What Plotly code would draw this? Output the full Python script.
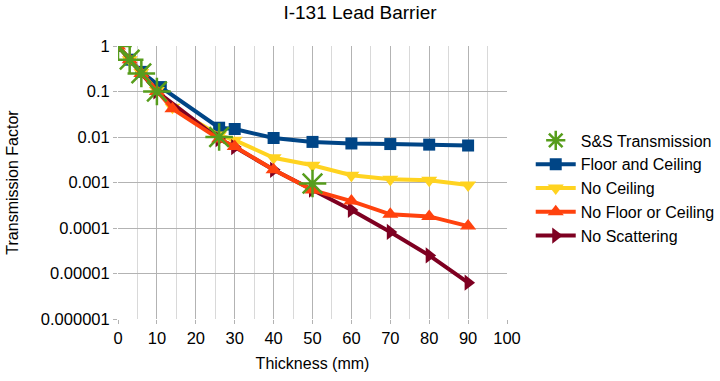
import plotly.graph_objects as go

# Data
ss_x = [0, 3, 6, 10, 26, 50]
ss_y = [1, 0.5, 0.25, 0.1, 0.01, 0.00095]

fc_x = [0, 3, 6, 11, 26, 30, 40, 50, 60, 70, 80, 90]
fc_y = [1, 0.5, 0.27, 0.125, 0.016, 0.015, 0.0095, 0.0078, 0.0072, 0.0070, 0.0068, 0.0065]

nc_x = [0, 3, 6, 10, 14, 26, 30, 40, 50, 60, 70, 80, 90]
nc_y = [1, 0.5, 0.26, 0.105, 0.045, 0.011, 0.0085, 0.0035, 0.0024, 0.00145, 0.00118, 0.00112, 0.00088]

nfc_x = [0, 3, 6, 10, 14, 26, 30, 40, 50, 60, 70, 80, 90]
nfc_y = [1, 0.5, 0.25, 0.1, 0.042, 0.009, 0.0062, 0.0019, 0.00068, 0.00039, 0.0002, 0.00018, 0.00011]

ns_x = [0, 10, 26, 30, 40, 50, 60, 70, 80, 90]
ns_y = [1, 0.1, 0.009, 0.006, 0.0019, 0.0007, 0.00025, 0.000082, 0.000025, 0.0000063]

x_ticks = list(range(0, 101, 10))
y_tickvals = [1, 0.1, 0.01, 0.001, 0.0001, 0.00001, 0.000001]
y_ticktext = ["1", "0.1", "0.01", "0.001", "0.0001", "0.00001", "0.000001"]

FONT = "Liberation Sans"
GREEN = "#579d1c"
fig = go.Figure()

fig.add_trace(go.Scatter(x=fc_x, y=fc_y, name="Floor and Ceiling", mode="lines+markers",
                         line=dict(color="#004586", width=4),
                         marker=dict(symbol="square", size=12, color="#004586")))
fig.add_trace(go.Scatter(x=nc_x, y=nc_y, name="No Ceiling", mode="lines+markers",
                         line=dict(color="#ffd320", width=4),
                         marker=dict(symbol="triangle-down", size=14, color="#ffd320")))
fig.add_trace(go.Scatter(x=ns_x, y=ns_y, name="No Scattering", mode="lines+markers",
                         line=dict(color="#7e0021", width=4),
                         marker=dict(symbol="triangle-right", size=14, color="#7e0021")))
fig.add_trace(go.Scatter(x=nfc_x, y=nfc_y, name="No Floor or Ceiling", mode="lines+markers",
                         line=dict(color="#ff420e", width=4),
                         marker=dict(symbol="triangle-up", size=14, color="#ff420e")))
fig.add_trace(go.Scatter(x=ss_x, y=ss_y, name="S&S Transmission", mode="markers",
                         marker=dict(symbol="asterisk-open", size=23, color=GREEN,
                                     line=dict(color=GREEN, width=2.5))))

# legend order
order = {"S&S Transmission": 1, "Floor and Ceiling": 2, "No Ceiling": 3,
         "No Floor or Ceiling": 4, "No Scattering": 5}
for tr in fig.data:
    tr.legendrank = order[tr.name]

fig.update_layout(
    width=720, height=381,
    margin=dict(l=118, r=213, t=46, b=62, autoexpand=False),
    paper_bgcolor="white", plot_bgcolor="white",
    font=dict(family=FONT, size=15, color="#000000"),
    title=dict(text="I-131 Lead Barrier", x=0.5, xanchor="center", y=0.968, yanchor="middle",
               font=dict(family=FONT, size=19, color="#000")),
    showlegend=True,
    legend=dict(x=1.061, xanchor="left", y=0.48, yanchor="middle",
                font=dict(family=FONT, size=16, color="#000"),
                tracegroupgap=0, itemwidth=40, bgcolor="rgba(0,0,0,0)"),
)
fig.update_xaxes(range=[0, 100], tickvals=x_ticks, ticks="outside", ticklen=4,
                 tickcolor="#b3b3b3", showgrid=True, gridcolor="#b3b3b3", gridwidth=1,
                 minor=dict(dtick=5, showgrid=True, gridcolor="#d9d9d9", gridwidth=1),
                 zeroline=False, showline=False,
                 tickfont=dict(family=FONT, size=16.5),
                 title=dict(text="Thickness (mm)", font=dict(family=FONT, size=16), standoff=12))
fig.update_yaxes(type="log", range=[-6, 0], tickvals=y_tickvals, ticktext=y_ticktext,
                 ticks="outside", ticklen=4, tickcolor="#b3b3b3",
                 showgrid=True, gridcolor="#b3b3b3", gridwidth=1,
                 zeroline=False, showline=False,
                 tickfont=dict(family=FONT, size=16.5),
                 title=dict(text="Transmission Factor", font=dict(family=FONT, size=16), standoff=18))

fig.write_html("out.html")
